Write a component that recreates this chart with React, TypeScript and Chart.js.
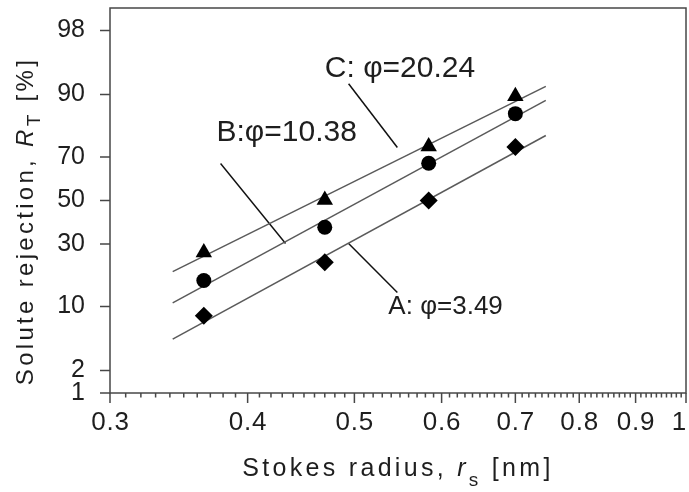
import React, { useEffect, useRef } from 'react';
import { Chart, registerables } from 'chart.js';

Chart.register(...registerables);

// ---- data ----
const stokesRadius = [0.365, 0.47, 0.584, 0.7];
const rejectionA = [8.2, 22.8, 50.0, 74.1];
const rejectionB = [16.7, 37.3, 67.4, 85.3];
const rejectionC = [26.5, 50.2, 74.3, 89.6];

const fitRadius = [0.342, 0.746];
const fitA = [4.7, 78.4];
const fitB = [10.8, 88.7];
const fitC = [19.5, 91.6];

const yTickPercents = [1, 2, 10, 30, 50, 70, 90, 98];
const xMajorTicks = [0.3, 0.4, 0.5, 0.6, 0.7, 0.8, 0.9, 1];
const xMinorStepHundredths = 1;

const labelA = 'A: φ=3.49';
const labelB = 'B:φ=10.38';
const labelC = 'C: φ=20.24';
const labelPosA = [0.605, 10.0];
const labelPosB = [0.434, 79.4];
const labelPosC = [0.55, 94.5];
const leaderAx = [0.494, 0.547];
const leaderAy = [30.2, 13.3];
const leaderBx = [0.378, 0.433];
const leaderBy = [67.3, 30.2];
const leaderCx = [0.494, 0.547];
const leaderCy = [92.1, 73.9];

const yRangePercent = [1, 99];

// inverse standard normal CDF (probability scale)
function probit(p: number): number {
  const a = [-3.969683028665376e1, 2.209460984245205e2, -2.759285104469687e2, 1.38357751867269e2, -3.066479806614716e1, 2.506628277459239];
  const b = [-5.447609879822406e1, 1.615858368580409e2, -1.556989798598866e2, 6.680131188771972e1, -1.328068155288572e1];
  const c = [-7.784894002430293e-3, -3.223964580411365e-1, -2.400758277161838, -2.549732539343734, 4.374664141464968, 2.938163982698783];
  const d = [7.784695709041462e-3, 3.224671290700398e-1, 2.445134137142996, 3.754408661907416];
  const pl = 0.02425;
  const ph = 1 - pl;
  if (p < pl) {
    const q = Math.sqrt(-2 * Math.log(p));
    return (((((c[0] * q + c[1]) * q + c[2]) * q + c[3]) * q + c[4]) * q + c[5]) / ((((d[0] * q + d[1]) * q + d[2]) * q + d[3]) * q + 1);
  }
  if (p <= ph) {
    const q = p - 0.5;
    const r = q * q;
    return ((((((a[0] * r + a[1]) * r + a[2]) * r + a[3]) * r + a[4]) * r + a[5]) * q) / (((((b[0] * r + b[1]) * r + b[2]) * r + b[3]) * r + b[4]) * r + 1);
  }
  const q = Math.sqrt(-2 * Math.log(1 - p));
  return -(((((c[0] * q + c[1]) * q + c[2]) * q + c[3]) * q + c[4]) * q + c[5]) / ((((d[0] * q + d[1]) * q + d[2]) * q + d[3]) * q + 1);
}

const pts = (xs: number[], ps: number[]) => xs.map((x, i) => ({ x, y: probit(ps[i] / 100) }));

const FONT = '"Liberation Sans", Arial, Helvetica, sans-serif';
const TEXT = '#1e1e1e';

type Part = { t: string; font: string; dy?: number };

function drawParts(ctx: CanvasRenderingContext2D, parts: Part[], cx: number, baseY: number, spacing: string) {
  (ctx as any).letterSpacing = spacing;
  const widths = parts.map((p) => {
    ctx.font = p.font;
    return ctx.measureText(p.t).width;
  });
  const total = widths.reduce((s, w) => s + w, 0);
  let x = cx - total / 2;
  ctx.textAlign = 'left';
  ctx.textBaseline = 'alphabetic';
  parts.forEach((p, i) => {
    ctx.font = p.font;
    ctx.fillText(p.t, x, baseY + (p.dy || 0));
    x += widths[i];
  });
  (ctx as any).letterSpacing = '0px';
}

const decorPlugin = {
  id: 'decor',
  afterDraw(chart: any) {
    const { ctx, chartArea: ca, scales } = chart;
    const xs = scales.x;
    const ys = scales.y;
    ctx.save();
    // frame
    ctx.strokeStyle = '#474747';
    ctx.lineWidth = 1.5;
    ctx.strokeRect(ca.left, ca.top, ca.right - ca.left, ca.bottom - ca.top);
    // y ticks
    ctx.beginPath();
    yTickPercents.forEach((p) => {
      const y = ys.getPixelForValue(probit(p / 100));
      ctx.moveTo(ca.left - 10, y);
      ctx.lineTo(ca.left, y);
    });
    // x ticks
    for (let h = 30; h <= 100; h += xMinorStepHundredths) {
      const v = h / 100;
      const major = h % 10 === 0;
      const x = xs.getPixelForValue(v);
      ctx.moveTo(x, ca.bottom);
      ctx.lineTo(x, ca.bottom + (major ? 10 : 4.5));
    }
    ctx.stroke();

    ctx.fillStyle = TEXT;
    // x tick labels
    ctx.font = `26px ${FONT}`;
    ctx.textAlign = 'center';
    ctx.textBaseline = 'alphabetic';
    (ctx as any).letterSpacing = '0.8px';
    xMajorTicks.forEach((v) => {
      const t = String(v);
      const w = ctx.measureText(t).width;
      const px = Math.min(xs.getPixelForValue(v) + 0.4, chart.width - 2 - w / 2);
      ctx.fillText(t, px, ca.bottom + 37);
    });
    (ctx as any).letterSpacing = '0px';

    // x title
    drawParts(
      ctx,
      [
        { t: 'Stokes radius, ', font: `25px ${FONT}` },
        { t: 'r', font: `italic 25px ${FONT}` },
        { t: 's', font: `19px ${FONT}`, dy: 10 },
        { t: ' [nm]', font: `25px ${FONT}` },
      ],
      (ca.left + ca.right) / 2,
      476,
      '3.3px'
    );
    // y title
    ctx.save();
    ctx.translate(33, 221);
    ctx.rotate(-Math.PI / 2);
    drawParts(
      ctx,
      [
        { t: 'Solute rejection, ', font: `24px ${FONT}` },
        { t: 'R', font: `italic 24px ${FONT}` },
        { t: 'T', font: `19px ${FONT}`, dy: 7 },
        { t: ' [%]', font: `24px ${FONT}` },
      ],
      0,
      0,
      '3.3px'
    );
    ctx.restore();

    // annotations
    const ann: [string, number[], number][] = [
      [labelC, labelPosC, 30],
      [labelB, labelPosB, 30],
      [labelA, labelPosA, 26],
    ];
    ann.forEach(([t, pos, size]) => {
      ctx.font = `${size}px ${FONT}`;
      ctx.textAlign = 'center';
      ctx.textBaseline = 'middle';
      ctx.fillText(t, xs.getPixelForValue(pos[0]), ys.getPixelForValue(probit(pos[1] / 100)));
    });
    ctx.restore();
  },
};

export default function App() {
  const ref = useRef<HTMLCanvasElement | null>(null);
  useEffect(() => {
    document.body.style.margin = '0';
    const canvas = ref.current!;
    const fitStyle = { showLine: true, pointRadius: 0, borderColor: '#5a5a5a', borderWidth: 1.5, backgroundColor: '#5a5a5a' };
    const leaderStyle = { showLine: true, pointRadius: 0, borderColor: '#111', borderWidth: 1.5, backgroundColor: '#111' };
    const markerStyle = { showLine: false, backgroundColor: '#000', borderColor: '#000', borderWidth: 0 };
    const chart = new Chart(canvas, {
      type: 'scatter',
      data: {
        datasets: [
          { label: 'C', data: pts(stokesRadius, rejectionC), pointStyle: 'triangle', pointRadius: 9.5, ...markerStyle },
          { label: 'B', data: pts(stokesRadius, rejectionB), pointStyle: 'circle', pointRadius: 7.5, ...markerStyle },
          { label: 'A', data: pts(stokesRadius, rejectionA), pointStyle: 'rectRot', pointRadius: 9, ...markerStyle },
          { label: 'fit C', data: pts(fitRadius, fitC), ...fitStyle },
          { label: 'fit B', data: pts(fitRadius, fitB), ...fitStyle },
          { label: 'fit A', data: pts(fitRadius, fitA), ...fitStyle },
          { label: 'leader C', data: pts(leaderCx, leaderCy), ...leaderStyle },
          { label: 'leader B', data: pts(leaderBx, leaderBy), ...leaderStyle },
          { label: 'leader A', data: pts(leaderAx, leaderAy), ...leaderStyle },
        ] as any,
      },
      options: {
        animation: false,
        responsive: false,
        devicePixelRatio: 1,
        layout: { autoPadding: false, padding: { top: 8, right: 3, left: 0, bottom: 0 } },
        plugins: { legend: { display: false }, tooltip: { enabled: false } },
        scales: {
          x: {
            type: 'logarithmic',
            min: 0.3,
            max: 1,
            grid: { display: false },
            border: { display: false },
            afterBuildTicks: (s: any) => {
              s.ticks = xMajorTicks.map((v) => ({ value: v }));
            },
            afterFit: (s: any) => {
              s.height = 99;
              s.paddingLeft = 0;
              s.paddingRight = 0;
            },
            ticks: { display: false },
          },
          y: {
            type: 'linear',
            min: probit(yRangePercent[0] / 100),
            max: probit(yRangePercent[1] / 100),
            grid: { display: false },
            border: { display: false },
            afterBuildTicks: (s: any) => {
              s.ticks = yTickPercents.map((p) => ({ value: probit(p / 100) }));
            },
            afterFit: (s: any) => {
              s.width = 110;
              s.paddingTop = 0;
              s.paddingBottom = 0;
            },
            ticks: {
              autoSkip: false,
              padding: 17,
              color: TEXT,
              font: { family: FONT, size: 25 },
              callback: (_v: any, i: number) => String(yTickPercents[i]),
            },
          },
        },
      } as any,
      plugins: [decorPlugin],
    });
    return () => chart.destroy();
  }, []);
  return <canvas ref={ref} width={689} height={492} style={{ display: 'block', width: 689, height: 492 }} />;
}
